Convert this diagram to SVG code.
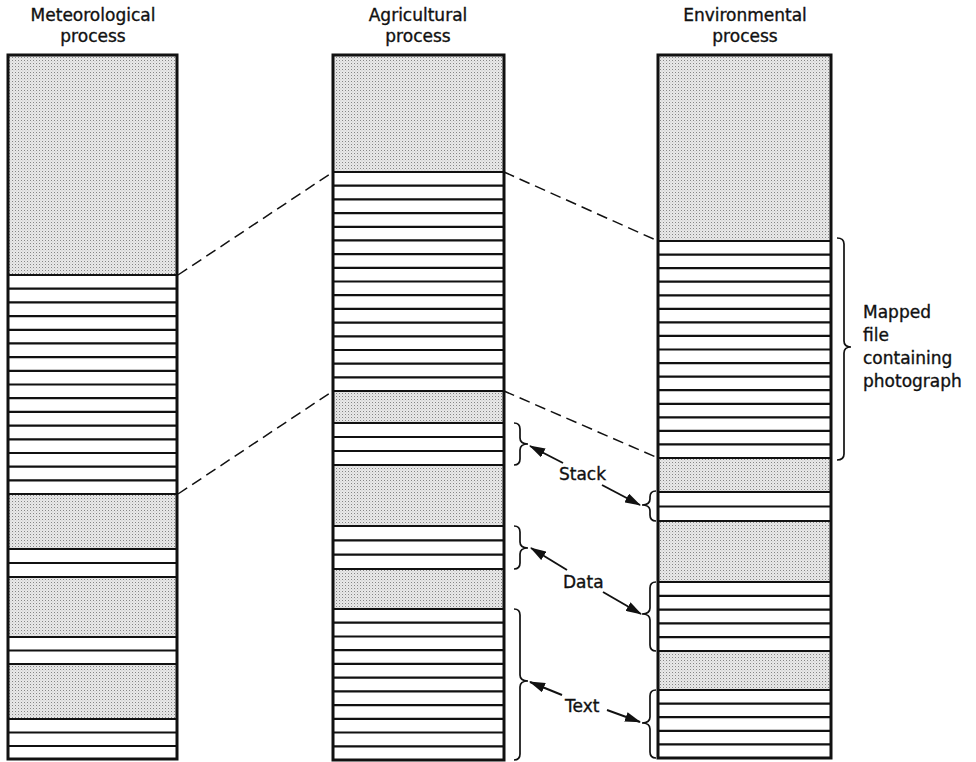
<svg xmlns="http://www.w3.org/2000/svg" width="976" height="762" viewBox="0 0 976 762">
<style>
.lbl{font-family:"DejaVu Sans","Liberation Sans",sans-serif;font-size:17px;fill:#111;stroke:#111;stroke-width:0.35}
.mid{text-anchor:middle}
.sh{fill:url(#dots)}
.frame{fill:none;stroke:#111;stroke-width:3}
.rows{fill:none;stroke:#111;stroke-width:2.2}
.dash{fill:none;stroke:#111;stroke-width:1.5;stroke-dasharray:11 6}
.brace{fill:none;stroke:#111;stroke-width:1.7}
.arr{fill:none;stroke:#111;stroke-width:1.9;marker-end:url(#ah)}
</style>
<defs>
<pattern id="dots" width="3" height="3" patternUnits="userSpaceOnUse">
<rect width="3" height="3" fill="#e8e8e8"/>
<rect x="0" y="0" width="1" height="1" fill="#858585"/>
<rect x="1.5" y="1.5" width="0.8" height="0.8" fill="#b0b0b0"/>
</pattern>
<marker id="ah" markerWidth="16" markerHeight="10" refX="15" refY="5" orient="auto" markerUnits="userSpaceOnUse">
<path d="M0,0 L16,5 L0,10 Z" fill="#111"/>
</marker>
</defs>
<rect width="976" height="762" fill="#fff"/>

<g id="col-meteorological">
<text class="lbl mid" x="93" y="21">Meteorological</text>
<text class="lbl mid" x="93" y="42">process</text>
<rect class="sh" x="8" y="55" width="169" height="220"/>
<rect class="sh" x="8" y="494" width="169" height="55"/>
<rect class="sh" x="8" y="577" width="169" height="60"/>
<rect class="sh" x="8" y="664" width="169" height="55"/>
<path class="rows" d="M8 275H177M8 288.7H177M8 302.4H177M8 316.1H177M8 329.8H177M8 343.4H177M8 357.1H177M8 370.8H177M8 384.5H177M8 398.2H177M8 411.9H177M8 425.6H177M8 439.3H177M8 453H177M8 466.7H177M8 480.3H177M8 494H177M8 549H177M8 563H177M8 577H177M8 637H177M8 650.5H177M8 664H177M8 719H177M8 732.5H177M8 746H177"/>
<rect class="frame" x="8" y="55" width="169" height="704"/>
</g>

<g id="col-agricultural">
<text class="lbl mid" x="418" y="21">Agricultural</text>
<text class="lbl mid" x="418" y="42">process</text>
<rect class="sh" x="333" y="55" width="171" height="117"/>
<rect class="sh" x="333" y="391" width="171" height="32"/>
<rect class="sh" x="333" y="465" width="171" height="61"/>
<rect class="sh" x="333" y="569" width="171" height="40"/>
<path class="rows" d="M333 172H504M333 185.7H504M333 199.4H504M333 213.1H504M333 226.8H504M333 240.4H504M333 254.1H504M333 267.8H504M333 281.5H504M333 295.2H504M333 308.9H504M333 322.6H504M333 336.3H504M333 350H504M333 363.7H504M333 377.3H504M333 391H504M333 423H504M333 437H504M333 451H504M333 465H504M333 526H504M333 540.3H504M333 554.7H504M333 569H504M333 609H504M333 622.7H504M333 636.5H504M333 650.2H504M333 663.9H504M333 677.6H504M333 691.4H504M333 705.1H504M333 718.8H504M333 732.5H504M333 746.3H504"/>
<rect class="frame" x="333" y="55" width="171" height="705"/>
</g>

<g id="col-environmental">
<text class="lbl mid" x="745" y="21">Environmental</text>
<text class="lbl mid" x="745" y="42">process</text>
<rect class="sh" x="658" y="55" width="173" height="186"/>
<rect class="sh" x="658" y="458" width="173" height="34"/>
<rect class="sh" x="658" y="521" width="173" height="61"/>
<rect class="sh" x="658" y="651" width="173" height="39"/>
<path class="rows" d="M658 241H831M658 254.6H831M658 268.1H831M658 281.7H831M658 295.3H831M658 308.8H831M658 322.4H831M658 335.9H831M658 349.5H831M658 363.1H831M658 376.6H831M658 390.2H831M658 403.8H831M658 417.3H831M658 430.9H831M658 444.4H831M658 458H831M658 492H831M658 506.5H831M658 521H831M658 582H831M658 595.8H831M658 609.6H831M658 623.4H831M658 637.2H831M658 651H831M658 690H831M658 703.6H831M658 717.2H831M658 730.8H831M658 744.4H831"/>
<rect class="frame" x="658" y="55" width="173" height="703"/>
</g>

<g id="braces">
<path class="brace" d="M514 423Q520 423 520 429L520 438Q520 444 528 444Q520 444 520 450L520 459Q520 465 514 465"/>
<path class="brace" d="M514 526Q520 526 520 532L520 542Q520 548 528 548Q520 548 520 554L520 563Q520 569 514 569"/>
<path class="brace" d="M514 609Q520 609 520 615L520 675Q520 681 528 681Q520 681 520 687L520 754Q520 760 514 760"/>
<path class="brace" d="M837 238Q844 238 844 244L844 341Q844 347 851 347Q844 347 844 353L844 454Q844 460 837 460"/>
<path class="brace" d="M656 491Q650 491 650 497L650 499Q650 505 642 505Q650 505 650 511L650 515Q650 521 656 521"/>
<path class="brace" d="M656 582Q650 582 650 588L650 608Q650 614 642 614Q650 614 650 620L650 645Q650 651 656 651"/>
<path class="brace" d="M656 690Q650 690 650 696L650 717Q650 723 642 723Q650 723 650 729L650 752Q650 758 656 758"/>
</g>

<g id="connectors">
<path class="dash" d="M178 275L333 172"/>
<path class="dash" d="M178 494L333 391"/>
<path class="dash" d="M504 172L658 241"/>
<path class="dash" d="M504 391L658 458"/>
<path class="arr" d="M563 463L530 446"/>
<path class="arr" d="M602 485L640 505"/>
<path class="arr" d="M567 570L531 548"/>
<path class="arr" d="M603 592L641 614"/>
<path class="arr" d="M562 695L530 682"/>
<path class="arr" d="M607 710L640 722"/>
</g>

<g id="labels">
<text class="lbl" x="559" y="480">Stack</text>
<text class="lbl" x="563" y="588">Data</text>
<text class="lbl" x="565" y="712">Text</text>
<text class="lbl" x="863" y="318">Mapped</text>
<text class="lbl" x="863" y="341">file</text>
<text class="lbl" x="863" y="364">containing</text>
<text class="lbl" x="863" y="387">photograph</text>
</g>
</svg>
